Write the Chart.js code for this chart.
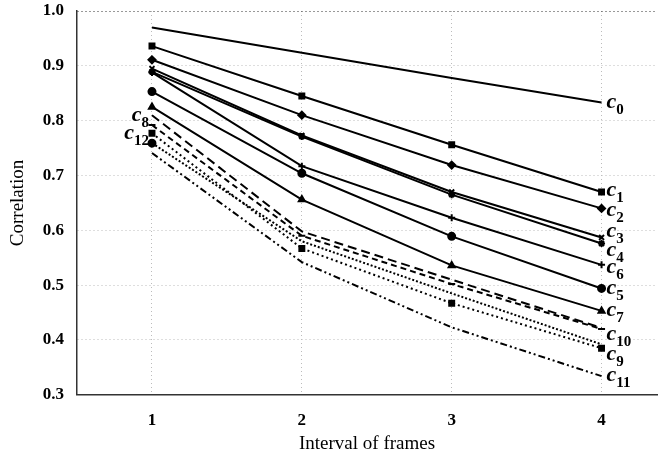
<!DOCTYPE html>
<html>
<head>
<meta charset="utf-8">
<script src="https://cdn.jsdelivr.net/npm/chart.js@4.4.1/dist/chart.umd.min.js"></script>
<style>
  html, body { margin: 0; padding: 0; background: #fff; overflow: hidden; }
  #wrap { width: 663px; height: 459px; position: relative; }
</style>
</head>
<body>
<div id="wrap"><canvas id="chart"></canvas></div>
<script>
// Data
const intervals = [1, 2, 3, 4];
const yTicks = [0.3, 0.4, 0.5, 0.6, 0.7, 0.8, 0.9, 1.0];
const c0 = [0.970, 0.924, 0.878, 0.833];
const c1 = [0.936, 0.845, 0.756, 0.670];
const c2 = [0.911, 0.810, 0.719, 0.640];
const c3 = [0.895, 0.773, 0.670, 0.587];
const c4 = [0.889, 0.771, 0.665, 0.576];
const c5 = [0.853, 0.704, 0.589, 0.494];
const c6 = [0.888, 0.717, 0.623, 0.537];
const c7 = [0.825, 0.656, 0.536, 0.453];
const c8 = [0.810, 0.598, 0.510, 0.422];
const c9 = [0.777, 0.567, 0.467, 0.385];
const c10 = [0.792, 0.590, 0.502, 0.420];
const c11 = [0.741, 0.542, 0.423, 0.334];
const c12 = [0.759, 0.580, 0.485, 0.392];

const serif = '"Liberation Serif", "DejaVu Serif", serif';

// name, values, marker, dash, label side, label vertical nudge, marker only on first point
const series = [
    ['0', c0, false, [], 'right', 2],
    ['1', c1, 'rect', [], 'right', 0],
    ['2', c2, 'rectRot', [], 'right', 4],
    ['3', c3, 'crossRot', [], 'right', -4],
    ['4', c4, 'star', [], 'right', 9],
    ['5', c5, 'circle', [], 'right', 2],
    ['6', c6, 'cross', [], 'right', 4],
    ['7', c7, 'triangle', [], 'right', 1],
    ['8', c8, false, [9, 5], 'left', 2],
    ['9', c9, 'rect', [2, 3], 'right', 8],
    ['10', c10, 'line', [6, 4], 'right', 7],
    ['11', c11, false, [7, 3, 2, 3, 2, 3], 'right', 1],
    ['12', c12, 'circle', [2, 2], 'left', -8, true]
];

const datasets = series.map(s => ({
    label: 'c' + s[0],
    data: intervals.map((x, i) => ({ x: x, y: s[1][i] })),
    borderColor: '#000',
    backgroundColor: '#000',
    borderWidth: 2,
    borderDash: s[3],
    pointStyle: s[2] || 'circle',
    pointRadius: !s[2] ? 0 : (s[6] ? intervals.map((x, i) => i === 0 ? 3.5 : 0) : 3.5),
    pointBorderWidth: 2,
    tension: 0,
    fill: false
}));

// draws the italic c with subscript next to each line
const curveLabels = {
    id: 'curveLabels',
    afterDatasetsDraw(chart) {
        const ctx = chart.ctx;
        const xs = chart.scales.x, ys = chart.scales.y;
        ctx.save();
        ctx.fillStyle = '#000';
        ctx.textBaseline = 'middle';
        ctx.textAlign = 'left';
        series.forEach(s => {
            const idx = s[4] === 'right' ? intervals.length - 1 : 0;
            const px = xs.getPixelForValue(intervals[idx]);
            const py = ys.getPixelForValue(s[1][idx]) + s[5];
            ctx.font = 'italic bold 22px ' + serif;
            const cw = ctx.measureText('c').width;
            ctx.font = 'bold 15px ' + serif;
            const sw = ctx.measureText(s[0]).width;
            const x0 = s[4] === 'right' ? px + 5 : px - 3 - cw - sw;
            ctx.font = 'italic bold 22px ' + serif;
            ctx.fillText('c', x0, py - 2);
            ctx.font = 'bold 15px ' + serif;
            ctx.fillText(s[0], x0 + cw, py + 6);
        });
        ctx.restore();
    }
};

const ctx = document.getElementById('chart').getContext('2d');
new Chart(ctx, {
    type: 'line',
    data: { datasets: datasets },
    options: {
        responsive: true,
        maintainAspectRatio: false,
        animation: false,
        layout: { padding: { top: 0, right: 0, left: 7, bottom: 4 } },
        plugins: {
            legend: { display: false },
            tooltip: { enabled: false }
        },
        scales: {
            x: {
                type: 'linear',
                min: 0.5,
                max: 4.37,
                afterBuildTicks: scale => { scale.ticks = intervals.map(v => ({ value: v })); },
                grid: {
                    color: '#bcbcbc',
                    lineWidth: 1,
                    drawTicks: false
                },
                border: { color: '#333', width: 1.5, dash: [1, 3] },
                ticks: {
                    color: '#000',
                    padding: 16,
                    font: { family: serif, size: 17, weight: 'bold' },
                    callback: v => String(v)
                },
                title: {
                    display: true,
                    text: 'Interval of frames',
                    color: '#000',
                    font: { family: serif, size: 19 },
                    padding: { top: -15, bottom: 0 }
                }
            },
            y: {
                min: 0.3,
                max: 1.0,
                afterBuildTicks: scale => { scale.ticks = yTicks.map(v => ({ value: v })); },
                // keep the plot top close to the canvas edge like the scan
                afterFit: scale => { scale.paddingTop = 11; scale.paddingBottom = 11; },
                grid: {
                    color: c => c.tick && c.tick.value === 1.0 ? '#333' : '#bcbcbc',
                    lineWidth: 1,
                    drawTicks: false
                },
                border: { color: '#333', width: 1.5, dash: [1, 3] },
                ticks: {
                    color: '#000',
                    padding: 13,
                    font: { family: serif, size: 17, weight: 'bold' },
                    callback: v => v.toFixed(1)
                },
                title: {
                    display: true,
                    text: 'Correlation',
                    color: '#000',
                    font: { family: serif, size: 19 },
                    padding: { top: 0, bottom: 0 }
                }
            }
        }
    },
    plugins: [curveLabels]
});
</script>
</body>
</html>
